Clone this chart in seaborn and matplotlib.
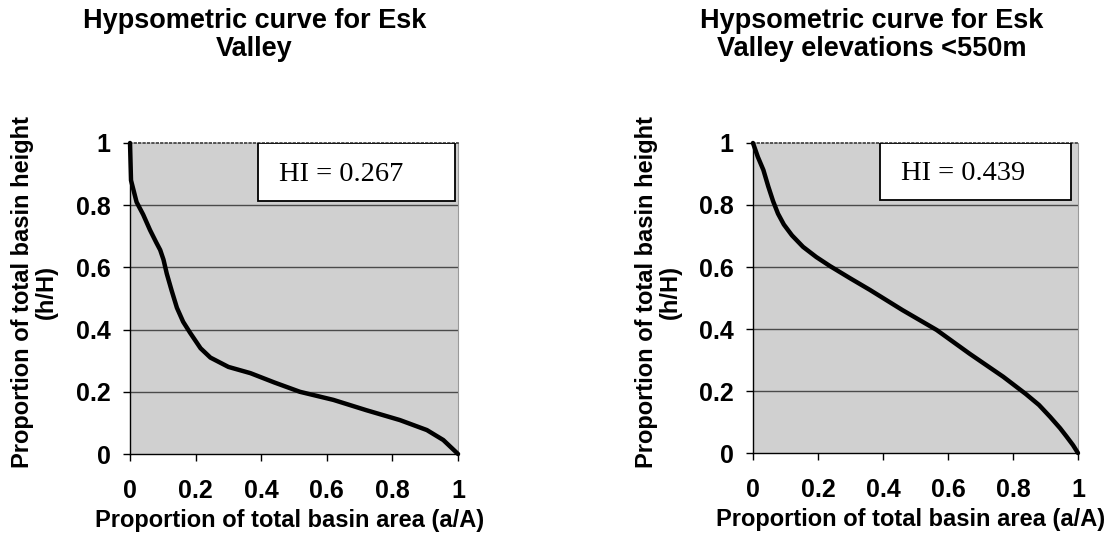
import matplotlib
matplotlib.use("Agg")
import matplotlib.pyplot as plt
import seaborn as sns
import pandas as pd
from matplotlib.patches import Rectangle

# ---------------- data ----------------
tick_values = [0, 0.2, 0.4, 0.6, 0.8, 1.0]
tick_labels = ["0", "0.2", "0.4", "0.6", "0.8", "1"]

left_title = "Hypsometric curve for Esk\nValley"
right_title = "Hypsometric curve for Esk\nValley elevations <550m"
x_label = "Proportion of total basin area (a/A)"
y_label = "Proportion of total basin height\n(h/H)"

left_hi = "HI = 0.267"
right_hi = "HI = 0.439"

left_area = [0, 0.003, 0.02, 0.04, 0.061, 0.08, 0.092, 0.102, 0.112, 0.127, 0.143,
             0.162, 0.183, 0.215, 0.245, 0.30, 0.367, 0.44, 0.518, 0.62, 0.72,
             0.823, 0.905, 0.955, 1.0]
left_height = [1.0, 0.88, 0.81, 0.77, 0.72, 0.68, 0.656, 0.625, 0.58, 0.525, 0.47,
               0.425, 0.39, 0.34, 0.31, 0.28, 0.26, 0.23, 0.20, 0.174, 0.141,
               0.109, 0.077, 0.045, 0.0]

right_area = [0, 0.015, 0.032, 0.047, 0.062, 0.077, 0.095, 0.12, 0.154, 0.195,
              0.237, 0.30, 0.36, 0.46, 0.565, 0.667, 0.77, 0.84, 0.88, 0.914,
              0.945, 0.965, 0.985, 1.0]
right_height = [1.0, 0.955, 0.913, 0.86, 0.812, 0.772, 0.737, 0.702, 0.665, 0.632,
                0.603, 0.563, 0.526, 0.461, 0.397, 0.32, 0.246, 0.19, 0.155, 0.117,
                0.08, 0.053, 0.025, 0.0]

# ---------------- style ----------------
sns.set_theme(style="white")
plt.rcParams["font.family"] = ["Liberation Sans", "DejaVu Sans"]

fig = plt.figure(figsize=(11.18, 5.47), dpi=100)
ax1 = fig.add_axes([0.1163, 0.170, 0.2934, 0.5686])
ax2 = fig.add_axes([0.6735, 0.1718, 0.2907, 0.5668])


def draw(ax, area, height, title, hi_text, title_x, box_x1):
    df = pd.DataFrame({"area": area, "height": height})
    ax.set_facecolor("#d0d0d0")
    sns.lineplot(data=df, x="area", y="height", ax=ax, color="black",
                 linewidth=3.2, estimator=None, sort=False, zorder=4,
                 clip_on=False)
    ax.set_xlim(0, 1)
    ax.set_ylim(0, 1)
    ax.set_xticks(tick_values)
    ax.set_xticklabels(tick_labels)
    ax.set_yticks(tick_values)
    ax.set_yticklabels(tick_labels)
    for v in tick_values[1:-1]:
        ax.axhline(v, color="#4a4a4a", linewidth=1.0, zorder=1)
    ax.tick_params(axis="both", which="major", direction="out", length=5,
                   width=1, color="black", labelsize=18, bottom=True, left=True)
    ax.tick_params(axis="x", pad=13)
    ax.tick_params(axis="y", pad=9)
    for lab in ax.get_xticklabels() + ax.get_yticklabels():
        lab.set_fontweight("bold")
        lab.set_color("black")
    for side in ["left", "bottom"]:
        ax.spines[side].set_color("black")
        ax.spines[side].set_linewidth(1.0)
    ax.spines["top"].set_color("#3a3a3a")
    ax.spines["top"].set_linewidth(1.2)
    ax.spines["top"].set_linestyle(":")
    ax.spines["right"].set_color("#9a9a9a")
    ax.spines["right"].set_linewidth(0.8)

    ax.set_xlabel(x_label, fontsize=17, fontweight="bold", color="black")
    ax.xaxis.set_label_coords(0.485, -0.215)
    ax.xaxis.label.set_va("center")
    ax.set_ylabel(y_label, fontsize=17, fontweight="bold", color="black",
                  linespacing=1.05)
    ax.yaxis.set_label_coords(-0.29, 0.52)
    ax.yaxis.label.set_va("center")

    ax.set_title(title, fontsize=19.5, fontweight="bold", color="black",
                 x=title_x, y=1.235, linespacing=1.1, va="bottom")

    box = Rectangle((0.39, 0.815), box_x1 - 0.39, 0.185, facecolor="white",
                    edgecolor="black", linewidth=1.3, zorder=5)
    ax.add_patch(box)
    ax.text(0.455, 0.9, hi_text, fontsize=20.5, family="Liberation Serif",
            color="black", ha="left", va="center", zorder=6)


draw(ax1, left_area, left_height, left_title, left_hi, 0.38, 0.99)
draw(ax2, right_area, right_height, right_title, right_hi, 0.366, 0.98)

fig.savefig("out.png", dpi=100)
